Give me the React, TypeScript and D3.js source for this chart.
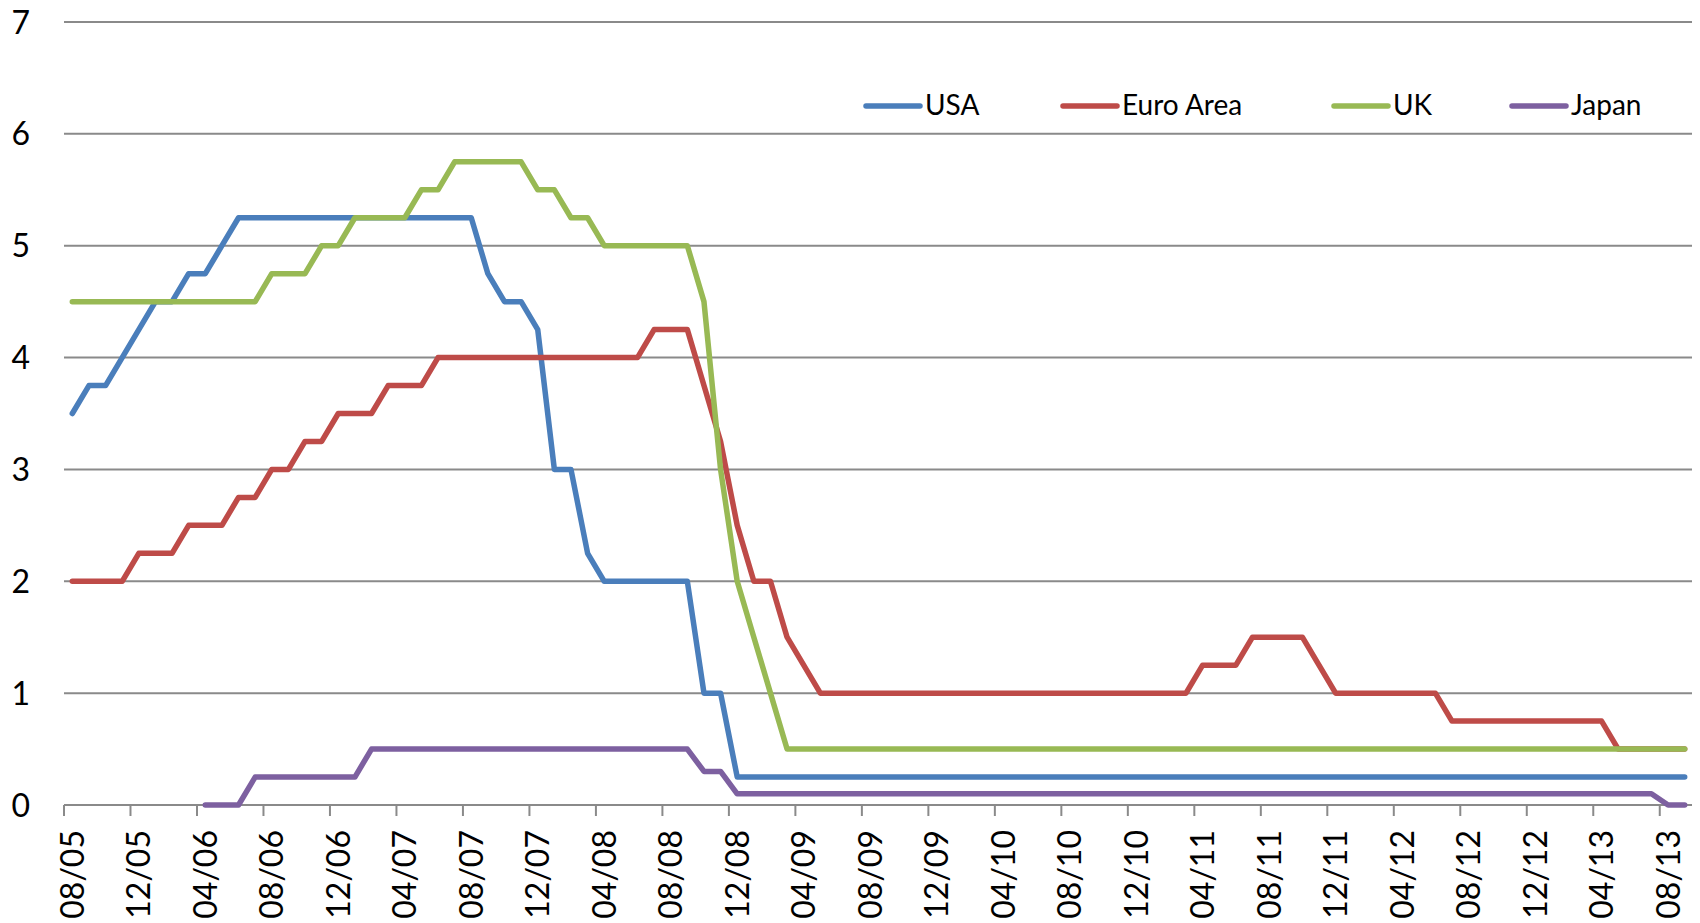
import React from "react";
import * as d3 from "d3";

// Months Aug 2005 .. Sep 2013 (98 monthly categories)
const months: string[] = [
  "08/05","09/05","10/05","11/05","12/05","01/06","02/06","03/06","04/06","05/06","06/06","07/06",
  "08/06","09/06","10/06","11/06","12/06","01/07","02/07","03/07","04/07","05/07","06/07","07/07",
  "08/07","09/07","10/07","11/07","12/07","01/08","02/08","03/08","04/08","05/08","06/08","07/08",
  "08/08","09/08","10/08","11/08","12/08","01/09","02/09","03/09","04/09","05/09","06/09","07/09",
  "08/09","09/09","10/09","11/09","12/09","01/10","02/10","03/10","04/10","05/10","06/10","07/10",
  "08/10","09/10","10/10","11/10","12/10","01/11","02/11","03/11","04/11","05/11","06/11","07/11",
  "08/11","09/11","10/11","11/11","12/11","01/12","02/12","03/12","04/12","05/12","06/12","07/12",
  "08/12","09/12","10/12","11/12","12/12","01/13","02/13","03/13","04/13","05/13","06/13","07/13",
  "08/13","09/13",
];

const usa: (number | null)[] = [
  3.5, 3.75, 3.75, 4.0, 4.25, 4.5, 4.5, 4.75, 4.75, 5.0, 5.25, 5.25,
  5.25, 5.25, 5.25, 5.25, 5.25, 5.25, 5.25, 5.25, 5.25, 5.25, 5.25, 5.25,
  5.25, 4.75, 4.5, 4.5, 4.25, 3.0, 3.0, 2.25, 2.0, 2.0, 2.0, 2.0,
  2.0, 2.0, 1.0, 1.0, 0.25, 0.25, 0.25, 0.25, 0.25, 0.25, 0.25, 0.25,
  0.25, 0.25, 0.25, 0.25, 0.25, 0.25, 0.25, 0.25, 0.25, 0.25, 0.25, 0.25,
  0.25, 0.25, 0.25, 0.25, 0.25, 0.25, 0.25, 0.25, 0.25, 0.25, 0.25, 0.25,
  0.25, 0.25, 0.25, 0.25, 0.25, 0.25, 0.25, 0.25, 0.25, 0.25, 0.25, 0.25,
  0.25, 0.25, 0.25, 0.25, 0.25, 0.25, 0.25, 0.25, 0.25, 0.25, 0.25, 0.25,
  0.25, 0.25,
];

const euro: (number | null)[] = [
  2.0, 2.0, 2.0, 2.0, 2.25, 2.25, 2.25, 2.5, 2.5, 2.5, 2.75, 2.75,
  3.0, 3.0, 3.25, 3.25, 3.5, 3.5, 3.5, 3.75, 3.75, 3.75, 4.0, 4.0,
  4.0, 4.0, 4.0, 4.0, 4.0, 4.0, 4.0, 4.0, 4.0, 4.0, 4.0, 4.25,
  4.25, 4.25, 3.75, 3.25, 2.5, 2.0, 2.0, 1.5, 1.25, 1.0, 1.0, 1.0,
  1.0, 1.0, 1.0, 1.0, 1.0, 1.0, 1.0, 1.0, 1.0, 1.0, 1.0, 1.0,
  1.0, 1.0, 1.0, 1.0, 1.0, 1.0, 1.0, 1.0, 1.25, 1.25, 1.25, 1.5,
  1.5, 1.5, 1.5, 1.25, 1.0, 1.0, 1.0, 1.0, 1.0, 1.0, 1.0, 0.75,
  0.75, 0.75, 0.75, 0.75, 0.75, 0.75, 0.75, 0.75, 0.75, 0.5, 0.5, 0.5,
  0.5, 0.5,
];

const uk: (number | null)[] = [
  4.5, 4.5, 4.5, 4.5, 4.5, 4.5, 4.5, 4.5, 4.5, 4.5, 4.5, 4.5,
  4.75, 4.75, 4.75, 5.0, 5.0, 5.25, 5.25, 5.25, 5.25, 5.5, 5.5, 5.75,
  5.75, 5.75, 5.75, 5.75, 5.5, 5.5, 5.25, 5.25, 5.0, 5.0, 5.0, 5.0,
  5.0, 5.0, 4.5, 3.0, 2.0, 1.5, 1.0, 0.5, 0.5, 0.5, 0.5, 0.5,
  0.5, 0.5, 0.5, 0.5, 0.5, 0.5, 0.5, 0.5, 0.5, 0.5, 0.5, 0.5,
  0.5, 0.5, 0.5, 0.5, 0.5, 0.5, 0.5, 0.5, 0.5, 0.5, 0.5, 0.5,
  0.5, 0.5, 0.5, 0.5, 0.5, 0.5, 0.5, 0.5, 0.5, 0.5, 0.5, 0.5,
  0.5, 0.5, 0.5, 0.5, 0.5, 0.5, 0.5, 0.5, 0.5, 0.5, 0.5, 0.5,
  0.5, 0.5,
];

const japan: (number | null)[] = [
  null, null, null, null, null, null, null, null, 0, 0, 0, 0.25,
  0.25, 0.25, 0.25, 0.25, 0.25, 0.25, 0.5, 0.5, 0.5, 0.5, 0.5, 0.5,
  0.5, 0.5, 0.5, 0.5, 0.5, 0.5, 0.5, 0.5, 0.5, 0.5, 0.5, 0.5,
  0.5, 0.5, 0.3, 0.3, 0.1, 0.1, 0.1, 0.1, 0.1, 0.1, 0.1, 0.1,
  0.1, 0.1, 0.1, 0.1, 0.1, 0.1, 0.1, 0.1, 0.1, 0.1, 0.1, 0.1,
  0.1, 0.1, 0.1, 0.1, 0.1, 0.1, 0.1, 0.1, 0.1, 0.1, 0.1, 0.1,
  0.1, 0.1, 0.1, 0.1, 0.1, 0.1, 0.1, 0.1, 0.1, 0.1, 0.1, 0.1,
  0.1, 0.1, 0.1, 0.1, 0.1, 0.1, 0.1, 0.1, 0.1, 0.1, 0.1, 0.1,
  0, 0,
];

const seriesNames = ["USA", "Euro Area", "UK", "Japan"];
const seriesValues = [usa, euro, uk, japan];
const seriesColors = ["#4A7EBB", "#BE4B48", "#98B954", "#7D60A0"];
const yTicks = [0, 1, 2, 3, 4, 5, 6, 7];
const legendX = [866, 1063, 1334, 1512];

const W = 1700;
const H = 923;
const left = 64;
const right = 1693;
const top = 22;
const bottom = 805;
const FONT = "Lato, 'Open Sans', sans-serif";

export default function App() {
  const x = d3.scaleBand<string>().domain(months).range([left, right]).paddingInner(0).paddingOuter(0);
  const bw = x.bandwidth();
  const y = d3.scaleLinear().domain([0, 7]).range([bottom, top]);
  const cx = (m: string) => (x(m) as number) + bw / 2;

  const line = d3
    .line<{ m: string; v: number | null }>()
    .defined((d) => d.v !== null)
    .x((d) => cx(d.m))
    .y((d) => y(d.v as number));

  const tickMonths = months.filter((_, i) => i % 4 === 0);

  return (
    <svg width={W} height={H} style={{ position: "absolute", left: 0, top: 0, background: "#fff" }}>
      {/* gridlines */}
      {yTicks.filter((t) => t > 0).map((t) => (
        <line key={t} x1={left} x2={right - 1} y1={y(t)} y2={y(t)} stroke="#8a8a8a" strokeWidth={2} />
      ))}
      {/* x axis */}
      <line x1={left} x2={right - 1} y1={bottom} y2={bottom} stroke="#8a8a8a" strokeWidth={2} />
      {tickMonths.map((m) => (
        <line key={m} x1={x(m) as number} x2={x(m) as number} y1={bottom} y2={bottom + 11} stroke="#8a8a8a" strokeWidth={2} />
      ))}
      {/* y labels */}
      {yTicks.map((t) => (
        <text key={t} x={30} y={y(t)} dy="0.36em" textAnchor="end" fontFamily={FONT} fontSize={32} fill="#000">
          {t}
        </text>
      ))}
      {/* x labels */}
      {tickMonths.map((m) => (
        <text
          key={m}
          transform={`translate(${cx(m)},${bottom + 25}) rotate(-90)`}
          dy="0.36em"
          textAnchor="end"
          fontFamily={FONT}
          fontSize={32}
          fill="#000"
        >
          {m}
        </text>
      ))}
      {/* series */}
      {seriesValues.map((vals, si) => (
        <path
          key={seriesNames[si]}
          d={line(months.map((m, i) => ({ m, v: vals[i] }))) || ""}
          fill="none"
          stroke={seriesColors[si]}
          strokeWidth={5.5}
          strokeLinejoin="round"
          strokeLinecap="round"
        />
      ))}
      {/* legend */}
      {seriesNames.map((n, i) => (
        <g key={n}>
          <line x1={legendX[i]} x2={legendX[i] + 54} y1={106} y2={106} stroke={seriesColors[i]} strokeWidth={5.5} strokeLinecap="round" />
          <text x={legendX[i] + 59} y={115} fontFamily={FONT} fontSize={28} fill="#000">
            {n}
          </text>
        </g>
      ))}
    </svg>
  );
}
